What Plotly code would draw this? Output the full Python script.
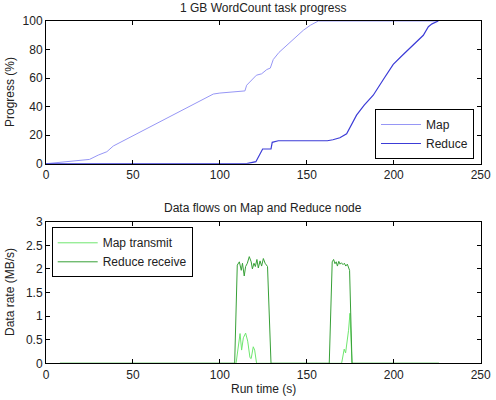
import plotly.graph_objects as go

# ---- Top panel: task progress (%) ----
map_t = [0, 25, 30, 35, 38.7, 45, 55, 65, 75, 85, 96.2, 100, 114.4, 115.4, 118, 121, 124, 127,
         129, 130, 130.7, 134, 138.4, 143, 148, 152, 156.6, 225.6]
map_p = [0, 3, 6, 8.4, 12.4, 16.4, 22.7, 29, 35.4, 41.7, 48.8, 49.5, 51, 55, 58, 62, 63, 66,
         67, 70, 73, 78, 83, 88, 93.5, 97, 100, 100]

red_t = [0, 115.4, 120.7, 124.6, 129.4, 130.1, 133.6, 161.8, 165, 169, 172.9, 175, 178.6, 183,
         188.2, 194, 199.7, 205, 210.3, 213, 217, 219.9, 222, 225.6]
red_p = [0, 0, 1.4, 10.3, 10.3, 15, 16.1, 16.1, 16.8, 18.2, 21, 26, 34, 41,
         48, 59, 69.6, 76, 82, 85, 90, 96, 98, 100]

# ---- Bottom panel: data rates (MB/s) ----
mt_t = [8, 109.3, 111.6, 112.5, 113.5, 114.8, 116.0, 117.3, 118.0, 119.2, 120.0, 121.1,
        170.0, 171.5, 172.3, 173.3, 174.0, 174.8, 176.0, 226]
mt_v = [0, 0, 0.63, 0.28, 0.54, 0.64, 0.47, 0.12, 0.10, 0.35, 0.28, 0,
        0, 0.30, 0.22, 0.47, 0.70, 1.06, 0, 0]

rr_t = [8, 108.5, 110.0, 111.2, 112.3, 113.0, 114.0, 114.8, 115.8, 116.9, 118.0, 118.7, 119.6,
        120.4, 121.3, 122.1, 123.1, 124.0, 125.0, 126.0, 127.4, 128.2, 129.4,
        162.9, 164.6, 165.4, 166.2, 166.9, 167.6, 168.4, 169.1, 169.9, 170.8, 171.6, 172.4,
        173.3, 174.6, 176.0, 226]
rr_v = [0, 0, 2.08, 2.15, 1.97, 2.12, 1.85, 2.05, 2.12, 2.26, 2.15, 2.0, 2.12,
        2.05, 2.20, 2.02, 2.17, 2.06, 2.22, 2.12, 2.05, 1.2, 0,
        0, 2.15, 2.20, 2.11, 2.15, 2.06, 2.16, 2.10, 2.13, 2.09, 2.12, 2.06,
        2.10, 1.97, 0, 0]

x_ticks = [0, 50, 100, 150, 200, 250]
top_yticks = [0, 20, 40, 60, 80, 100]
bot_yticks = [0, 0.5, 1, 1.5, 2, 2.5, 3]
bot_yticklabels = ["0", "0.5", "1", "1.5", "2", "2.5", "3"]

FONT = "Liberation Sans, Arial, sans-serif"
fig = go.Figure()

fig.add_trace(go.Scatter(x=map_t, y=map_p, mode="lines", name="Map",
                         line=dict(color="rgb(150,150,245)", width=1),
                         xaxis="x", yaxis="y", legend="legend"))
fig.add_trace(go.Scatter(x=red_t, y=red_p, mode="lines", name="Reduce",
                         line=dict(color="rgb(60,60,215)", width=1.2),
                         xaxis="x", yaxis="y", legend="legend"))
fig.add_trace(go.Scatter(x=mt_t, y=mt_v, mode="lines", name="Map transmit",
                         line=dict(color="rgb(110,230,110)", width=1),
                         xaxis="x2", yaxis="y2", legend="legend2"))
fig.add_trace(go.Scatter(x=rr_t, y=rr_v, mode="lines", name="Reduce receive",
                         line=dict(color="rgb(55,160,55)", width=1),
                         xaxis="x2", yaxis="y2", legend="legend2"))

axis_common = dict(showline=True, linecolor="black", linewidth=1, mirror="ticks",
                   ticks="inside", ticklen=4, tickcolor="black", showgrid=False,
                   zeroline=False, automargin=False,
                   tickfont=dict(family=FONT, size=12, color="#222"))

xd = [46 / 496, 480.7 / 496]


def label(text, x, y, angle=0):
    return dict(text=text, x=x / 496, y=1 - y / 400, xref="paper", yref="paper",
                xanchor="center", yanchor="middle", textangle=angle,
                showarrow=False, font=dict(size=12))


fig.update_layout(
    width=496, height=400,
    margin=dict(l=0, r=0, t=0, b=0, autoexpand=False),
    paper_bgcolor="white", plot_bgcolor="white",
    font=dict(family=FONT, size=12, color="#222"),
    xaxis=dict(domain=xd, range=[0, 250], tickvals=x_ticks, anchor="y", **axis_common),
    yaxis=dict(domain=[(400 - 163.7) / 400, (400 - 21) / 400], range=[0, 100],
               tickvals=top_yticks, anchor="x", **axis_common),
    xaxis2=dict(domain=xd, range=[0, 250], tickvals=x_ticks, anchor="y2", **axis_common),
    yaxis2=dict(domain=[(400 - 363.3) / 400, (400 - 221.7) / 400], range=[0, 3],
                tickvals=bot_yticks, ticktext=bot_yticklabels, anchor="x2", **axis_common),
    legend=dict(x=474 / 496, y=(400 - 159) / 400, xanchor="right", yanchor="bottom",
                bgcolor="white", bordercolor="black", borderwidth=1,
                font=dict(family=FONT, size=12, color="#222"),
                tracegroupgap=0, itemwidth=40),
    legend2=dict(x=51.7 / 496, y=(400 - 227.3) / 400, xanchor="left", yanchor="top",
                 bgcolor="white", bordercolor="black", borderwidth=1,
                 font=dict(family=FONT, size=12, color="#222"),
                 tracegroupgap=0, itemwidth=40),
    showlegend=True,
    annotations=[
        label("1 GB WordCount task progress", 263, 8),
        label("Data flows on Map and Reduce node", 263, 208),
        label("Run time (s)", 263, 389),
        label("Progress (%)", 10, 92, -90),
        label("Data rate (MB/s)", 10, 292, -90),
    ],
)

fig.write_html("out.html")
